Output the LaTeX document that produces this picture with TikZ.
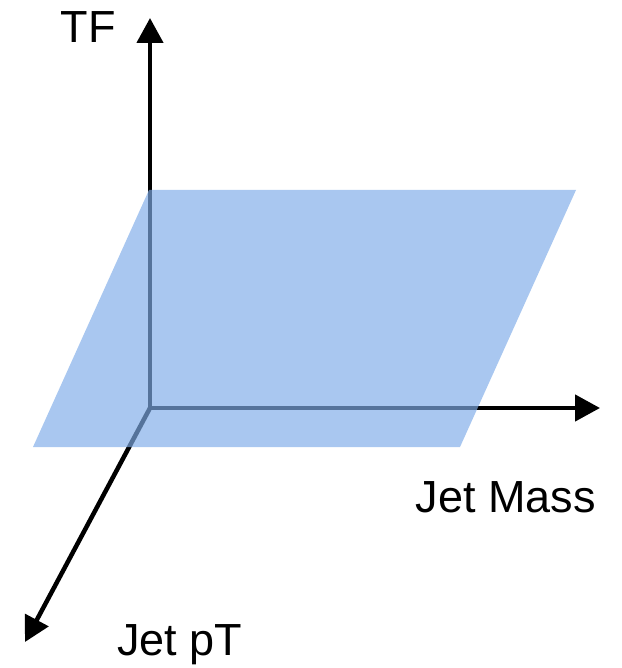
\documentclass[tikz,border=0pt]{standalone}
\usepackage{fontspec}
\setmainfont{Liberation Sans}
\usetikzlibrary{arrows.meta}
\definecolor{planeblue}{RGB}{127,172,232}
\begin{document}
\begin{tikzpicture}[x=1pt, y=-1pt,
    axis/.style={line width=4.5pt, -{Triangle[length=25pt,width=26pt]}},
    axislabel/.style={font=\fontsize{45}{50}\selectfont, inner sep=0pt}]
    % --- Frame of the picture ---
    \useasboundingbox (0,0) rectangle (621,668);

    % --- Define Coordinates ---
    \coordinate (O) at (150,408);      % origin
    \coordinate (tfTip) at (150,18);   % TF axis tip
    \coordinate (massTip) at (600,408);% Jet Mass axis tip
    \coordinate (ptTip) at (25,642);   % Jet pT axis tip

    % --- Draw Axes ---
    \draw[axis] (O) -- (tfTip);
    \draw[axis] (O) -- (massTip);
    \draw[axis] (O) -- (ptTip);

    % --- Draw Plane (semi-transparent, over the axes) ---
    \fill[planeblue, fill opacity=0.67] (149,190) -- (576,190) -- (460,447) -- (33,447) -- cycle;

    % --- Axis Labels ---
    \node[axislabel] (tf) at (88,27) {TF};
    \node[axislabel] (mass) at (506,497) {Jet Mass};
    \node[axislabel] (pt) at (180,645) {Jet pT};
\end{tikzpicture}
\end{document}
